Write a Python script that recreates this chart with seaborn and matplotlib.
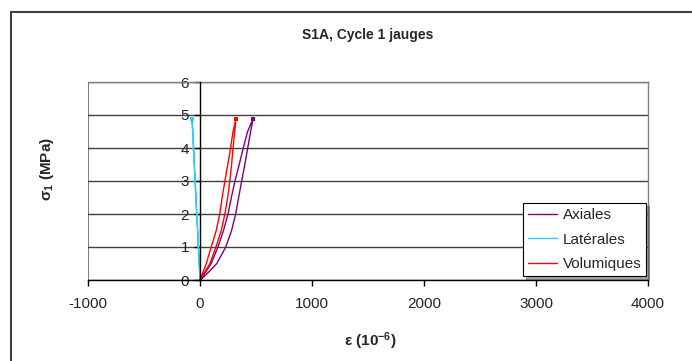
import numpy as np
import pandas as pd
import seaborn as sns
import matplotlib
matplotlib.use("Agg")
from matplotlib import pyplot as plt
from matplotlib.patches import Rectangle

# stress levels (MPa): loading up to the peak, then unloading back to zero
sigma_up = [0, 0.25, 0.5, 1, 1.5, 2, 2.5, 3, 3.5, 4, 4.5, 4.88]
sigma_down = [4.5, 4, 3.5, 3, 2.5, 2, 1.5, 1, 0.5, 0.25, 0]

# strain (10^-6), loading then unloading
axial_up = [5, 80, 150, 230, 282, 318, 345, 372, 400, 426, 452, 474]
axial_down = [425, 386, 350, 312, 280, 250, 210, 160, 100, 52, 0]
lateral_up = [0, -4, -8, -15, -22, -30, -37, -45, -52, -59, -66, -72]
lateral_down = [-64, -57, -50, -42, -36, -28, -20, -14, -6, -3, 0]
volum_up = [0, 45, 89, 142, 190, 222, 247, 266, 282, 295, 310, 320]
volum_down = [295, 273, 248, 222, 198, 176, 145, 100, 56, 28, 0]

series_names = ['Axiales', 'Latérales', 'Volumiques']
series_colors = ['#800080', '#33CCFF', '#FF0000']

sigma = sigma_up + sigma_down
frames = []
for name, up, down in zip(series_names,
                          [axial_up, lateral_up, volum_up],
                          [axial_down, lateral_down, volum_down]):
    frames.append(pd.DataFrame({'eps': up + down, 'sigma': sigma,
                                'serie': name, 'order': range(len(sigma))}))
df = pd.concat(frames, ignore_index=True)
peaks = df.loc[df.groupby('serie', sort=False)['sigma'].idxmax()]

sns.set_style('white')
plt.rcParams['font.family'] = ['Liberation Sans', 'DejaVu Sans']
plt.rcParams['axes.unicode_minus'] = False
plt.rcParams['mathtext.fontset'] = 'custom'
plt.rcParams['mathtext.rm'] = 'Liberation Sans'
plt.rcParams['mathtext.it'] = 'Liberation Sans:italic'
plt.rcParams['mathtext.bf'] = 'Liberation Sans:bold'

fig = plt.figure(figsize=(6.92, 3.61), dpi=100)
ax = fig.add_axes([88 / 692, 1 - 280 / 361, 560 / 692, 198 / 361])

# outer chart frame
fig.patches.append(Rectangle((11 / 692, -0.2), 1.2, 1.2 - 12 / 361,
                             transform=fig.transFigure, fill=False,
                             edgecolor='#404040', linewidth=1.5))

sns.lineplot(data=df, x='eps', y='sigma', hue='serie', units='serie',
             estimator=None, sort=False, palette=series_colors,
             linewidth=1, ax=ax)
sns.scatterplot(data=peaks, x='eps', y='sigma', hue='serie',
                palette=series_colors, marker='s', s=10, linewidth=0,
                legend=False, ax=ax, zorder=4)

ax.set_xlim(-1000, 4000)
ax.set_ylim(0, 6)
ax.set_xticks(range(-1000, 4001, 1000))
ax.set_yticks(range(0, 7))
ax.yaxis.grid(True, color='#404040', linewidth=1)
ax.set_axisbelow(True)

for side in ['top', 'right']:
    ax.spines[side].set_color('#808080')
    ax.spines[side].set_linewidth(1)
ax.spines['left'].set_position(('data', 0))
ax.spines['left'].set_color('black')
ax.spines['left'].set_linewidth(1)
ax.spines['left'].set_zorder(3)
ax.spines['bottom'].set_color('black')
ax.spines['bottom'].set_linewidth(1)
ax.axvline(-1000, color='#808080', linewidth=1.5, zorder=0)

ax.tick_params(axis='x', direction='out', length=4, width=1, pad=8,
               labelsize=11, bottom=True, color='black')
ax.tick_params(axis='y', direction='out', length=4, width=1, pad=4,
               labelsize=11, left=True, color='black')

ax.set_title('S1A, Cycle 1 jauges', fontsize=10, fontweight='bold',
             y=1 + 47 / 198, va='center', pad=0, x=(368 - 88) / 560)
ax.set_xlabel(r'$\mathbf{\varepsilon}$ (10$^{\mathbf{-6}}$)',
              fontsize=11, fontweight='bold')
ax.xaxis.set_label_coords((370 - 88) / 560, (280 - 341) / 198)
ax.xaxis.label.set_va('center')
ax.set_ylabel(r'$\mathbf{\sigma_1}$ (MPa)', fontsize=11, fontweight='bold')
ax.yaxis.set_label_coords((47 - 88) / 560, (280 - 169) / 198)
ax.yaxis.label.set_va('center')

leg = ax.legend(loc='lower right', bbox_to_anchor=(0.997, 0.02),
                fontsize=11, frameon=True, fancybox=False, shadow=True,
                edgecolor='black', framealpha=1, borderpad=0.3,
                labelspacing=0.7, handlelength=1.9, handletextpad=0.4,
                borderaxespad=0)
leg.get_frame().set_linewidth(0.8)

fig.savefig('out.png', dpi=100)
plt.close()
